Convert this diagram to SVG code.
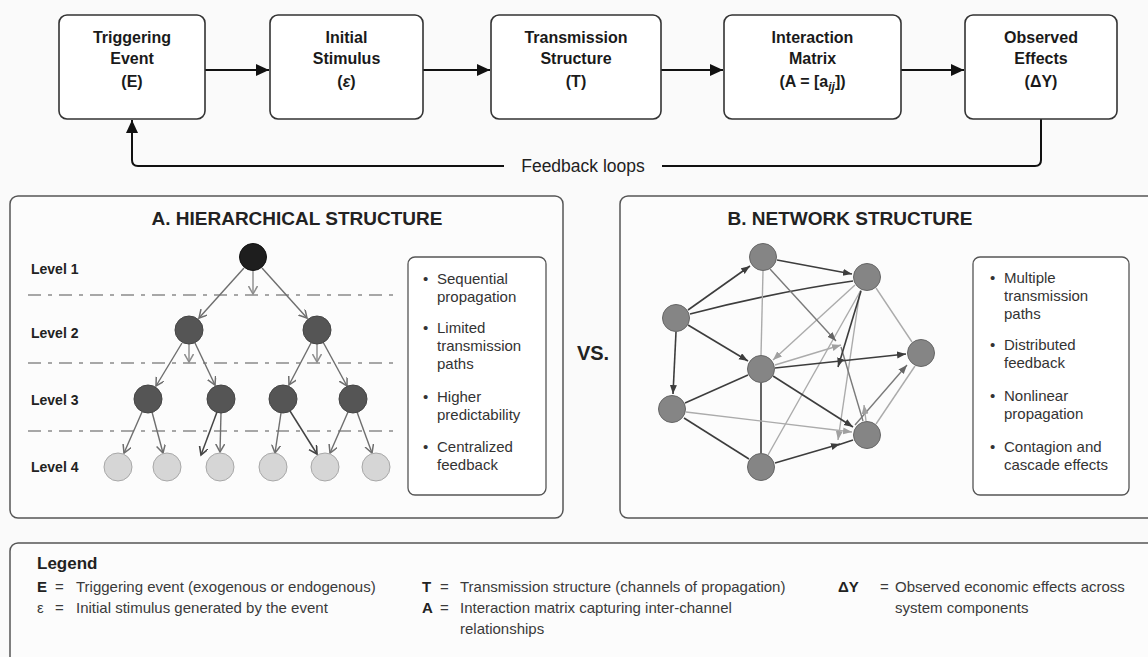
<svg xmlns="http://www.w3.org/2000/svg" width="1148" height="657" viewBox="0 0 1148 657">
<defs>
<style>
.box{fill:#fff;stroke:#333;stroke-width:1.6}
.panel{fill:#fcfcfc;stroke:#555;stroke-width:1.5}
.bt{font-family:"Liberation Sans",Arial,sans-serif;font-weight:bold;font-size:16px;fill:#1a1a1a;text-anchor:middle}
.title{font-family:"Liberation Sans",Arial,sans-serif;font-weight:bold;font-size:19px;fill:#222;text-anchor:middle}
.lvl{font-family:"Liberation Sans",Arial,sans-serif;font-weight:bold;font-size:14px;fill:#222}
.bul{font-family:"Liberation Sans",Arial,sans-serif;font-size:15px;fill:#333}
.lg{font-family:"Liberation Sans",Arial,sans-serif;font-size:15px;fill:#3a3a3a}
.lgb{font-family:"Liberation Sans",Arial,sans-serif;font-size:15px;font-weight:bold;fill:#222}
.main{stroke:#111;stroke-width:2;fill:none}
.dash{stroke:#8a8a8a;stroke-width:1.3;stroke-dasharray:13 7 4 7;fill:none}
.he{stroke:#6e6e6e;stroke-width:1.4;fill:none}
.hs{stroke:#8c8c8c;stroke-width:1.4;fill:none}
.hd{stroke:#444;stroke-width:1.5;fill:none}
.nd{stroke:#3d3d3d;stroke-width:1.6;fill:none}
.nm{stroke:#7a7a7a;stroke-width:1.4;fill:none}
.nl{stroke:#ababab;stroke-width:1.4;fill:none}
.n1{fill:#1e1e1e;stroke:#111;stroke-width:1}
.n2{fill:#555;stroke:#444;stroke-width:1}
.n4{fill:#d6d6d6;stroke:#a8a8a8;stroke-width:1}
.nn{fill:#858585;stroke:#666;stroke-width:1}
</style>
<marker id="amain" markerUnits="userSpaceOnUse" markerWidth="14" markerHeight="12" refX="13" refY="6" orient="auto"><path d="M0,0 L13,6 L0,12 z" fill="#111"/></marker>
<marker id="ahe" markerUnits="userSpaceOnUse" markerWidth="10" markerHeight="10" refX="8" refY="4.5" orient="auto"><path d="M0,0 L8,4.5 L0,9" fill="none" stroke="#6e6e6e" stroke-width="1.5"/></marker>
<marker id="ahs" markerUnits="userSpaceOnUse" markerWidth="10" markerHeight="10" refX="8" refY="4.5" orient="auto"><path d="M0,0 L8,4.5 L0,9" fill="none" stroke="#8c8c8c" stroke-width="1.5"/></marker>
<marker id="ahd" markerUnits="userSpaceOnUse" markerWidth="10" markerHeight="10" refX="8" refY="4.5" orient="auto"><path d="M0,0 L8,4.5 L0,9" fill="none" stroke="#444" stroke-width="1.6"/></marker>
<marker id="and" markerUnits="userSpaceOnUse" markerWidth="10" markerHeight="8" refX="9" refY="3.5" orient="auto"><path d="M0,0 L9,3.5 L0,7 z" fill="#3d3d3d"/></marker>
<marker id="anm" markerUnits="userSpaceOnUse" markerWidth="10" markerHeight="8" refX="9" refY="3.5" orient="auto"><path d="M0,0 L9,3.5 L0,7 z" fill="#666"/></marker>
<marker id="anl" markerUnits="userSpaceOnUse" markerWidth="10" markerHeight="8" refX="9" refY="3.5" orient="auto"><path d="M0,0 L9,3.5 L0,7 z" fill="#a0a0a0"/></marker>
</defs>
<rect width="1148" height="657" fill="#fafafa"/>

<g id="connectors">
<path class="main" d="M205,70 H269" marker-end="url(#amain)"/>
<path class="main" d="M423,70 H490" marker-end="url(#amain)"/>
<path class="main" d="M661,70 H723" marker-end="url(#amain)"/>
<path class="main" d="M901,70 H964" marker-end="url(#amain)"/>
<path class="main" d="M1041,119 V160 Q1041,166 1035,166 H662"/>
<path class="main" d="M504,166 H138 Q132,166 132,160 V120" marker-end="url(#amain)"/>
</g>
<text id="feedback-label" x="583" y="172" font-family="Liberation Sans, Arial, sans-serif" font-size="17.5" fill="#222" text-anchor="middle">Feedback loops</text>

<g id="node-E"><rect class="box" x="59" y="15" width="146" height="104" rx="8"/>
<text class="bt" x="132" y="43">Triggering</text><text class="bt" x="132" y="64">Event</text><text class="bt" x="132" y="87">(E)</text></g>
<g id="node-eps"><rect class="box" x="270" y="15" width="153" height="104" rx="8"/>
<text class="bt" x="346.5" y="43">Initial</text><text class="bt" x="346.5" y="64">Stimulus</text><text class="bt" x="346.5" y="87">(<tspan font-style="italic">ε</tspan>)</text></g>
<g id="node-T"><rect class="box" x="491" y="15" width="170" height="104" rx="8"/>
<text class="bt" x="576" y="43">Transmission</text><text class="bt" x="576" y="64">Structure</text><text class="bt" x="576" y="87">(T)</text></g>
<g id="node-A"><rect class="box" x="724" y="15" width="177" height="104" rx="8"/>
<text class="bt" x="812.5" y="43">Interaction</text><text class="bt" x="812.5" y="64">Matrix</text><text class="bt" x="812.5" y="87">(A = [a<tspan font-style="italic" font-size="12" dy="4">ij</tspan><tspan dy="-4">])</tspan></text></g>
<g id="node-dY"><rect class="box" x="965" y="15" width="152" height="104" rx="8"/>
<text class="bt" x="1041" y="43">Observed</text><text class="bt" x="1041" y="64">Effects</text><text class="bt" x="1041" y="87">(ΔY)</text></g>

<g id="panel-A">
<rect class="panel" x="10" y="196" width="553" height="322" rx="8"/>
<text class="title" x="297" y="225">A. HIERARCHICAL STRUCTURE</text>
<text class="lvl" x="31" y="274">Level 1</text>
<text class="lvl" x="31" y="338">Level 2</text>
<text class="lvl" x="31" y="405">Level 3</text>
<text class="lvl" x="31" y="472">Level 4</text>
<path class="dash" d="M28,295 H398 M28,363 H398 M28,431 H398"/>
<g id="tree-edges">
<path class="he" d="M244,268 L199,318" marker-end="url(#ahe)"/>
<path class="he" d="M262,268 L307,318" marker-end="url(#ahe)"/>
<path class="hs" d="M253,271 V294" marker-end="url(#ahs)"/>
<path class="he" d="M182,343 L156,386" marker-end="url(#ahe)"/>
<path class="he" d="M195,343 L215,385" marker-end="url(#ahe)"/>
<path class="hs" d="M189,344 V362" marker-end="url(#ahs)"/>
<path class="he" d="M311,343 L289,385" marker-end="url(#ahe)"/>
<path class="he" d="M323,342 L347,386" marker-end="url(#ahe)"/>
<path class="hs" d="M317,344 V362" marker-end="url(#ahs)"/>
<path class="he" d="M142,412 L124,453" marker-end="url(#ahe)"/>
<path class="he" d="M152,412 L163,453" marker-end="url(#ahe)"/>
<path class="he" d="M221,413 L220,452" marker-end="url(#ahe)"/>
<path class="hd" d="M217,412 L201,455" marker-end="url(#ahd)"/>
<path class="he" d="M281,413 L275,453" marker-end="url(#ahe)"/>
<path class="hd" d="M290,411 L317,454" marker-end="url(#ahd)"/>
<path class="he" d="M348,412 L330,453" marker-end="url(#ahe)"/>
<path class="he" d="M357,412 L372,453" marker-end="url(#ahe)"/>
</g>
<g id="h-l1"><circle class="n1" cx="253" cy="257" r="13.5"/></g>
<g id="h-l2a"><circle class="n2" cx="189" cy="330" r="14"/></g>
<g id="h-l2b"><circle class="n2" cx="317" cy="330" r="14"/></g>
<g id="h-l3a"><circle class="n2" cx="148" cy="399" r="14"/></g>
<g id="h-l3b"><circle class="n2" cx="221" cy="399" r="14"/></g>
<g id="h-l3c"><circle class="n2" cx="283" cy="399" r="14"/></g>
<g id="h-l3d"><circle class="n2" cx="353" cy="399" r="14"/></g>
<g id="h-l4a"><circle class="n4" cx="118" cy="467" r="14"/></g>
<g id="h-l4b"><circle class="n4" cx="167" cy="467" r="14"/></g>
<g id="h-l4c"><circle class="n4" cx="220" cy="467" r="14"/></g>
<g id="h-l4d"><circle class="n4" cx="273" cy="467" r="14"/></g>
<g id="h-l4e"><circle class="n4" cx="325" cy="467" r="14"/></g>
<g id="h-l4f"><circle class="n4" cx="376" cy="467" r="14"/></g>
<g id="bullets-A">
<rect class="box" x="408" y="257" width="138" height="238" rx="7" style="stroke:#555;stroke-width:1.3"/>
<text class="bul" x="423" y="284">•</text><text class="bul" x="437" y="284">Sequential</text><text class="bul" x="437" y="302">propagation</text>
<text class="bul" x="423" y="333">•</text><text class="bul" x="437" y="333">Limited</text><text class="bul" x="437" y="351">transmission</text><text class="bul" x="437" y="369">paths</text>
<text class="bul" x="423" y="402">•</text><text class="bul" x="437" y="402">Higher</text><text class="bul" x="437" y="420">predictability</text>
<text class="bul" x="423" y="452">•</text><text class="bul" x="437" y="452">Centralized</text><text class="bul" x="437" y="470">feedback</text>
</g>
</g>

<text id="vs" x="593" y="360" font-family="Liberation Sans, Arial, sans-serif" font-size="20" font-weight="bold" fill="#222" text-anchor="middle">VS.</text>

<g id="panel-B">
<rect class="panel" x="620" y="196" width="540" height="322" rx="8"/>
<text class="title" x="850" y="225">B. NETWORK STRUCTURE</text>
<g id="net-edges">
<path class="nd" d="M688,310 L750,266" marker-end="url(#and)"/>
<path class="nd" d="M777,260 L852,274" marker-end="url(#and)"/>
<path class="nd" d="M690,314 Q775,292 853,281"/>
<path class="nd" d="M676,332 L673,394" marker-end="url(#and)"/>
<path class="nd" d="M688,325 L748,361" marker-end="url(#and)"/>
<path class="nl" d="M763,271 L761,355"/>
<path class="nl" d="M876,288 L912,342"/>
<path class="nl" d="M855,285 L773,360" marker-end="url(#anl)"/>
<path class="nl" d="M768,455 L861,290"/>
<path class="nl" d="M860,291 L838,440" marker-end="url(#anl)"/>
<path class="nm" d="M770,269 L836,341" marker-end="url(#anm)"/>
<path class="nl" d="M775,365 L841,345" marker-end="url(#anl)"/>
<path class="nm" d="M841,347 L863,421"/>
<path class="nd" d="M861,291 L838,367" marker-end="url(#and)"/>
<path class="nd" d="M775,368 L906,354" marker-end="url(#and)"/>
<path class="nd" d="M773,376 L853,427" marker-end="url(#and)"/>
<path class="nd" d="M685,403 L748,375"/>
<path class="nd" d="M761,383 L761,453"/>
<path class="nd" d="M684,418 L749,459"/>
<path class="nd" d="M775,463 L840,444" marker-end="url(#and)"/>
<path class="nd" d="M838,445 L853,440"/>
<path class="nl" d="M686,412 L852,432" marker-end="url(#anl)"/>
<path class="nm" d="M855,425 L907,365" marker-end="url(#anm)"/>
<path class="nl" d="M876,424 L915,366"/>
<path class="nl" d="M866,421 L864,405" marker-end="url(#anl)"/>
</g>
<g id="net-n1"><circle class="nn" cx="763" cy="257" r="13.5"/></g>
<g id="net-n2"><circle class="nn" cx="867" cy="277" r="13.5"/></g>
<g id="net-n3"><circle class="nn" cx="676" cy="318" r="13.5"/></g>
<g id="net-n4"><circle class="nn" cx="921" cy="353" r="13.5"/></g>
<g id="net-n5"><circle class="nn" cx="761" cy="369" r="13.5"/></g>
<g id="net-n6"><circle class="nn" cx="672" cy="409" r="13.5"/></g>
<g id="net-n7"><circle class="nn" cx="867" cy="435" r="13.5"/></g>
<g id="net-n8"><circle class="nn" cx="761" cy="467" r="13.5"/></g>
<g id="bullets-B">
<rect class="box" x="973" y="257" width="156" height="238" rx="7" style="stroke:#555;stroke-width:1.3"/>
<text class="bul" x="990" y="283">•</text><text class="bul" x="1004" y="283">Multiple</text><text class="bul" x="1004" y="301">transmission</text><text class="bul" x="1004" y="319">paths</text>
<text class="bul" x="990" y="350">•</text><text class="bul" x="1004" y="350">Distributed</text><text class="bul" x="1004" y="368">feedback</text>
<text class="bul" x="990" y="401">•</text><text class="bul" x="1004" y="401">Nonlinear</text><text class="bul" x="1004" y="419">propagation</text>
<text class="bul" x="990" y="452">•</text><text class="bul" x="1004" y="452">Contagion and</text><text class="bul" x="1004" y="470">cascade effects</text>
</g>
</g>

<g id="legend">
<rect class="panel" x="10" y="543" width="1150" height="130" rx="8"/>
<text x="37" y="569" font-family="Liberation Sans, Arial, sans-serif" font-size="17" font-weight="bold" fill="#222">Legend</text>
<text class="lgb" x="37" y="592">E</text><text class="lg" x="55" y="592">=</text><text class="lg" x="76" y="592">Triggering event (exogenous or endogenous)</text>
<text class="lg" x="37" y="613">ε</text><text class="lg" x="55" y="613">=</text><text class="lg" x="76" y="613">Initial stimulus generated by the event</text>
<text class="lgb" x="422" y="592">T</text><text class="lg" x="440" y="592">=</text><text class="lg" x="460" y="592">Transmission structure (channels of propagation)</text>
<text class="lgb" x="422" y="613">A</text><text class="lg" x="440" y="613">=</text><text class="lg" x="460" y="613">Interaction matrix capturing inter-channel</text>
<text class="lg" x="460" y="634">relationships</text>
<text class="lgb" x="838" y="592">ΔY</text><text class="lg" x="880" y="592">=</text><text class="lg" x="895" y="592">Observed economic effects across</text>
<text class="lg" x="895" y="613">system components</text>
</g>
</svg>
